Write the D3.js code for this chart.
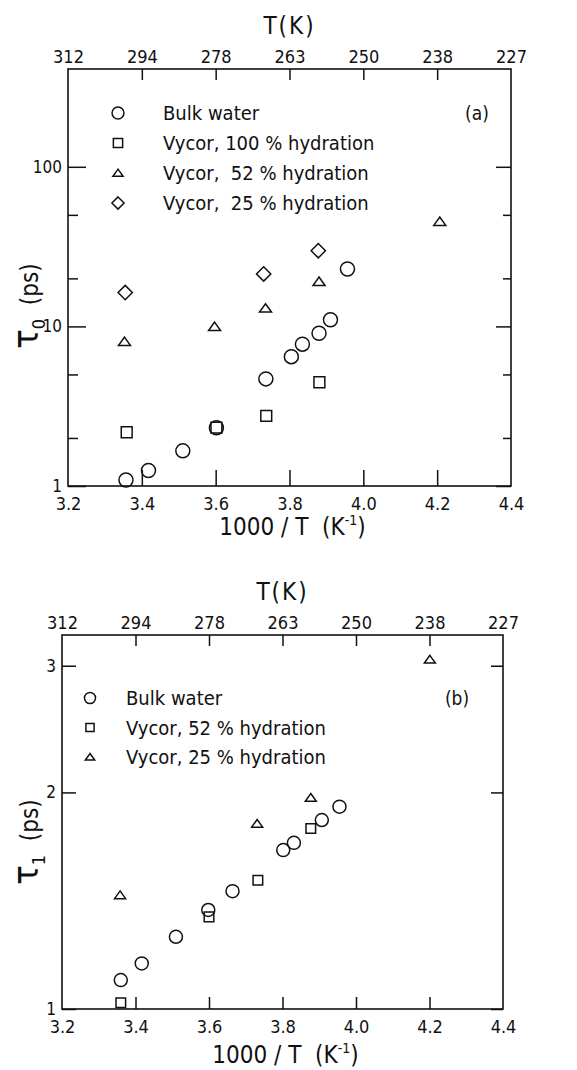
<!DOCTYPE html>
<html>
<head>
<meta charset="utf-8">
<script src="https://cdn.jsdelivr.net/npm/d3@7"></script>
<style>
  body { margin: 0; background: #fff; }
  text { font-family: "DejaVu Sans Condensed", "DejaVu Sans", sans-serif; fill: #111; }
</style>
</head>
<body>
<div id="plot"></div>
<script>
// relaxation times of water, bulk vs Vycor

const w = 577;
const h = 1070;

const xTicks = [3.2, 3.4, 3.6, 3.8, 4.0, 4.2, 4.4];
const tempLabels = ["312", "294", "278", "263", "250", "238", "227"];

// panel (a): tau0
const invT_a_bulk = [3.357, 3.418, 3.511, 3.602, 3.736, 3.805, 3.835, 3.880, 3.911, 3.957];
const tau0_bulk = [1.09, 1.25, 1.66, 2.32, 4.69, 6.46, 7.74, 9.06, 11.0, 22.9];
const invT_a_v100 = [3.359, 3.602, 3.737, 3.881];
const tau0_v100 = [2.17, 2.32, 2.75, 4.47];
const invT_a_v52 = [3.353, 3.597, 3.735, 3.880, 4.207];
const tau0_v52 = [8.03, 9.97, 13.0, 19.1, 45.4];
const invT_a_v25 = [3.355, 3.730, 3.878];
const tau0_v25 = [16.3, 21.3, 29.8];
const yMajor_a = [1, 10, 100];
const yMinor_a = [2, 5, 20, 50];
const legend_a = ["Bulk water", "Vycor, 100 % hydration", "Vycor,  52 % hydration", "Vycor,  25 % hydration"];

// panel (b): tau1
const invT_b_bulk = [3.360, 3.417, 3.510, 3.598, 3.664, 3.802, 3.831, 3.907, 3.955];
const tau1_bulk = [1.097, 1.157, 1.26, 1.373, 1.458, 1.663, 1.702, 1.831, 1.911];
const invT_b_v52 = [3.360, 3.600, 3.733, 3.877];
const tau1_v52 = [1.02, 1.343, 1.51, 1.782];
const invT_b_v25 = [3.358, 3.731, 3.877, 4.201];
const tau1_v25 = [1.44, 1.81, 1.967, 3.06];
const yMajor_b = [1, 2, 3];
const legend_b = ["Bulk water", "Vycor, 52 % hydration", "Vycor, 25 % hydration"];

const svg = d3.select("div#plot")
    .append("svg")
    .attr("width", w)
    .attr("height", h);

svg.append("rect")
    .attr("width", w)
    .attr("height", h)
    .attr("fill", "white");

function marker(g, type, x, y, s) {
  const m = g.append("path")
      .attr("fill", "none")
      .attr("stroke", "#111")
      .attr("stroke-width", 1.5)
      .attr("transform", `translate(${x},${y})`);
  if (type === "circle") {
    m.attr("d", d3.arc()({innerRadius: s, outerRadius: s, startAngle: 0, endAngle: 2 * Math.PI}));
  } else if (type === "square") {
    const a = s * 0.8;
    m.attr("d", `M${-a},${-a}H${a}V${a}H${-a}Z`);
  } else if (type === "triangle") {
    const a = s;
    m.attr("d", `M0,${-a * 0.75}L${a},${a * 0.65}H${-a}Z`);
  } else {
    const a = s * 1.1;
    m.attr("d", `M0,${-a}L${a},0L0,${a}L${-a},0Z`);
  }
}

function panel(p) {
  const x = d3.scaleLinear().domain([3.2, 4.4]).range([p.left, p.right]);
  const y = d3.scaleLog().domain(p.yDomain).range([p.bottom, p.top]);
  const g = svg.append("g");

  // bottom axis, ticks pointing inward
  g.append("g")
      .attr("transform", `translate(0,${p.bottom})`)
      .call(d3.axisBottom(x).tickValues(xTicks).tickSize(-p.btick).tickPadding(8)
        .tickFormat(d3.format(".1f")))
      .call(a => a.select(".domain").remove())
      .call(a => a.selectAll(".tick line").filter(d => d === 3.2 || d === 4.4).remove())
      .call(a => a.selectAll("text").attr("font-size", 18).attr("dy", "0.9em"));

  // top axis, temperature labels
  g.append("g")
      .attr("transform", `translate(0,${p.top})`)
      .call(d3.axisTop(x).tickValues(xTicks).tickSize(-11).tickPadding(6)
        .tickFormat((d, i) => tempLabels[i]))
      .call(a => a.select(".domain").remove())
      .call(a => a.selectAll(".tick line").filter(d => d === 3.2 || d === 4.4).remove())
      .call(a => a.selectAll("text").attr("font-size", 18));

  // left / right axes
  g.append("g")
      .attr("transform", `translate(${p.left},0)`)
      .call(d3.axisLeft(y).tickValues(p.yMajor).tickSize(-p.ltick).tickPadding(6)
        .tickFormat(d3.format("d")))
      .call(a => a.select(".domain").remove())
      .call(a => a.selectAll("text").attr("font-size", 17));
  g.append("g")
      .attr("transform", `translate(${p.right},0)`)
      .call(d3.axisRight(y).tickValues(p.yMajor).tickSize(-p.rtick).tickFormat(""))
      .call(a => a.select(".domain").remove());
  if (p.yMinor) {
    g.append("g")
        .attr("transform", `translate(${p.left},0)`)
        .call(d3.axisLeft(y).tickValues(p.yMinor).tickSize(-10).tickFormat(""))
        .call(a => a.select(".domain").remove());
    g.append("g")
        .attr("transform", `translate(${p.right},0)`)
        .call(d3.axisRight(y).tickValues(p.yMinor).tickSize(-8).tickFormat(""))
        .call(a => a.select(".domain").remove());
  }
  g.selectAll(".tick line").attr("stroke", "#111").attr("stroke-width", 1.5);

  g.append("rect")
      .attr("x", p.left).attr("y", p.top)
      .attr("width", p.right - p.left).attr("height", p.bottom - p.top)
      .attr("fill", "none").attr("stroke", "#111").attr("stroke-width", 1.6);

  // data
  p.series.forEach(s => {
    s.xs.forEach((v, i) => marker(g, s.type, x(v), y(s.ys[i]), s.size));
  });

  // legend
  p.legend.forEach((t, i) => {
    const ly = p.legY + i * p.legStep;
    marker(g, p.series[i].type, p.legX, ly, p.series[i].size * 0.85);
    g.append("text")
        .attr("x", p.legTextX).attr("y", ly)
        .attr("dy", "0.36em")
        .attr("font-size", 20)
        .style("white-space", "pre")
        .text(t);
  });
  g.append("text")
      .attr("x", p.tagX).attr("y", p.legY)
      .attr("dy", "0.36em")
      .attr("text-anchor", "middle")
      .attr("font-size", 19)
      .text(p.tag);

  // titles
  g.append("text")
      .attr("x", (p.left + p.right) / 2).attr("y", p.top - 35)
      .attr("text-anchor", "middle")
      .attr("font-size", 24)
      .attr("letter-spacing", 2)
      .text("T(K)");
  const xt = g.append("text")
      .attr("x", (p.left + p.right) / 2 + 3).attr("y", p.xTitleY)
      .attr("text-anchor", "middle")
      .attr("font-size", 24)
      .style("white-space", "pre");
  xt.append("tspan").text("1000 / T  (K");
  xt.append("tspan").attr("font-size", 14).attr("dy", -10).text("-1");
  xt.append("tspan").attr("dy", 10).text(")");

  const yt = g.append("text")
      .attr("transform", `translate(38,${p.yTitleY}) rotate(-90)`)
      .attr("text-anchor", "middle")
      .style("white-space", "pre");
  yt.append("tspan").attr("font-size", 36).text("τ");
  yt.append("tspan").attr("font-size", 18).attr("dy", 7).text(p.sub);
  yt.append("tspan").attr("font-size", 24).attr("dy", -7).text("  (ps)");
}

panel({
  left: 68, right: 511, top: 69, bottom: 486,
  yDomain: [1, 410], yMajor: yMajor_a, yMinor: yMinor_a,
  btick: 16, ltick: 18, rtick: 15,
  series: [
    {type: "circle", xs: invT_a_bulk, ys: tau0_bulk, size: 7},
    {type: "square", xs: invT_a_v100, ys: tau0_v100, size: 6.8},
    {type: "triangle", xs: invT_a_v52, ys: tau0_v52, size: 6},
    {type: "diamond", xs: invT_a_v25, ys: tau0_v25, size: 6.5}
  ],
  legend: legend_a, legX: 118, legTextX: 163, legY: 113, legStep: 30,
  tag: "(a)", tagX: 477,
  xTitleY: 535, yTitleY: 306, sub: "0"
});

panel({
  left: 62, right: 503, top: 635, bottom: 1009,
  yDomain: [1, 3.31], yMajor: yMajor_b, yMinor: null,
  btick: 12, ltick: 14, rtick: 12,
  series: [
    {type: "circle", xs: invT_b_bulk, ys: tau1_bulk, size: 6.5},
    {type: "square", xs: invT_b_v52, ys: tau1_v52, size: 6},
    {type: "triangle", xs: invT_b_v25, ys: tau1_v25, size: 5.5}
  ],
  legend: legend_b, legX: 90, legTextX: 126, legY: 698, legStep: 29.5,
  tag: "(b)", tagX: 457,
  xTitleY: 1063, yTitleY: 842, sub: "1"
});
</script>
</body>
</html>
